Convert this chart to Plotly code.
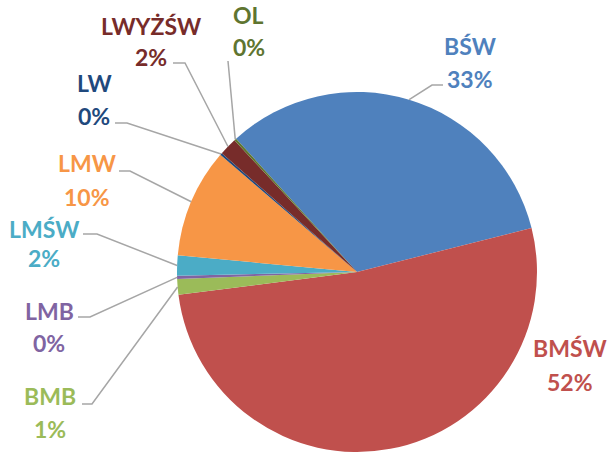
import math
import plotly.graph_objects as go

# ---- data ----
labels = ["BŚW", "BMŚW", "BMB", "LMB", "LMŚW", "LMW", "LW", "LWYŻŚW", "OL"]
values = [32.8, 51.9, 1.4, 0.3, 1.8, 9.8, 0.2, 1.6, 0.2]
colors = ["#4F81BD", "#C0504D", "#9BBB59", "#8064A2", "#4BACC6",
          "#F79646", "#1F497D", "#772C2A", "#5F7530"]

# ---- layout / styling ----
W, H = 610, 454
OFF = 0
CX, CY, R = 357, 272, 180
ROT = -42.2
FONT = "Lato"
FSIZE = 23
LINE_COLOR = "#A6A6A6"

# label placement (page pixel coords): x center, line-1 y center, line-2 y center
label_pos = {
    "BŚW": (470, 46, 79),
    "BMŚW": (570, 348, 382),
    "BMB": (50, 396, 429),
    "LMB": (49, 311, 343),
    "LMŚW": (44, 229, 258),
    "LMW": (87, 163, 197),
    "LW": (94, 83, 116),
    "LWYŻŚW": (151, 26, 57),
    "OL": (249, 15, 47),
}
# leader line waypoints (from elbow toward the label), page pixel coords
leader_pts = {
    "BŚW": [(432, 85), (443, 85)],
    "BMB": [(92, 404), (82, 404)],
    "LMB": [(90, 317), (78, 317)],
    "LMŚW": [(97, 234), (83, 234)],
    "LMW": [(130, 171), (119, 171)],
    "LW": [(127, 123), (115, 123)],
    "LWYŻŚW": [(185, 63), (173, 63)],
    "OL": [(228, 61)],
}


def px(x):
    return (x - OFF) / W


def py(y):
    return 1 - (y - OFF) / H


total = sum(values)
fig = go.Figure(go.Pie(
    labels=labels, values=values, sort=False, direction="clockwise",
    rotation=ROT, textinfo="none", hoverinfo="label+percent",
    marker=dict(colors=colors, line=dict(width=0)),
    domain=dict(x=[px(CX - R), px(CX + R)], y=[py(CY + R), py(CY - R)]),
    showlegend=False,
))

annotations = []
shapes = []
cum = 0.0
for lab, val, col in zip(labels, values, colors):
    mid = math.radians(ROT + 360.0 * (cum + val / 2) / total)
    cum += val
    ex = CX + R * math.sin(mid)
    ey = CY - R * math.cos(mid)
    pct = f"{round(100.0 * val / total + 1e-9):.0f}%"
    x, y1, y2 = label_pos[lab]
    for txt, yy in ((lab, y1), (pct, y2)):
        annotations.append(dict(
            x=px(x), y=py(yy), xref="paper", yref="paper", text=txt,
            showarrow=False, xanchor="center", yanchor="middle",
            font=dict(family=FONT, size=FSIZE, color=col, weight=700),
        ))
    if lab in leader_pts:
        pts = [(ex, ey)] + leader_pts[lab]
        path = "M " + " L ".join(f"{px(a):.5f},{py(b):.5f}" for a, b in pts)
        shapes.append(dict(type="path", path=path, xref="paper", yref="paper",
                           line=dict(color=LINE_COLOR, width=1.5)))

fig.update_layout(
    width=W, height=H, margin=dict(l=0, r=0, t=0, b=0),
    paper_bgcolor="white", plot_bgcolor="white",
    annotations=annotations, shapes=shapes,
)
fig.write_html("out.html",
               config={"displayModeBar": False},
               post_script="document.body.style.margin='0';"
                           "document.body.style.overflow='hidden';")
